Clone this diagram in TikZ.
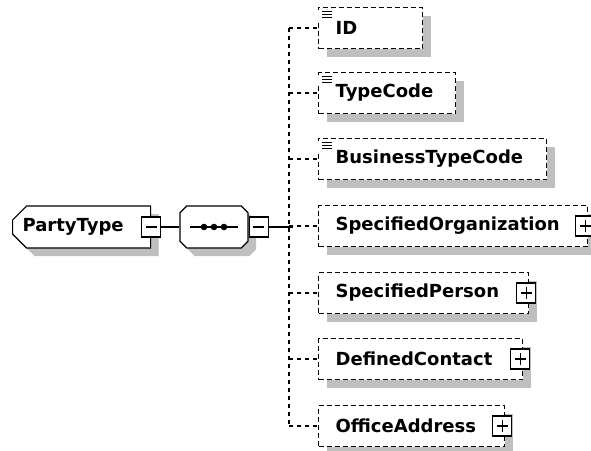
\documentclass[tikz,border=0pt]{standalone}
\usepackage{fontspec}
\setsansfont{DejaVu Sans}
\usepackage{tikz}
\usetikzlibrary{positioning, shapes.misc, shadows, calc}
\tikzset{
    boxshadow/.style={drop shadow={shadow xshift=8pt, shadow yshift=-8pt, opacity=1, fill=gray!50}},
    typebox/.style={chamfered rectangle, chamfered rectangle corners={north west, south west},
        chamfered rectangle sep=7pt, draw=black, fill=white, line width=1.2pt,
        minimum width=138pt, minimum height=42pt, inner xsep=3pt, text width=118pt, align=left, boxshadow},
    seqbox/.style={chamfered rectangle, chamfered rectangle sep=10pt, draw=black, fill=white,
        line width=1.2pt, minimum width=68pt, minimum height=42pt, boxshadow},
    elem/.style={draw=black, fill=white, line width=1.2pt, dash pattern=on 5pt off 3pt,
        anchor=west, minimum height=41pt, inner xsep=17pt, text width=#1, align=left, boxshadow},
    signbox/.style={draw=black, fill=white, line width=1.2pt, minimum width=19pt, minimum height=20pt, inner sep=0pt},
    minusbox/.style={signbox, path picture={
        \draw[line width=1.2pt] ([xshift=4pt]path picture bounding box.west) -- ([xshift=-4pt]path picture bounding box.east);}},
    plusbox/.style={signbox, path picture={
        \draw[line width=1.2pt] ([xshift=4pt]path picture bounding box.west) -- ([xshift=-4pt]path picture bounding box.east);
        \draw[line width=1.2pt] ([yshift=-4pt]path picture bounding box.north) -- ([yshift=4pt]path picture bounding box.south);}},
    link/.style={draw=black, line width=1.2pt},
    branch/.style={draw=black, line width=1.2pt, dash pattern=on 4pt off 4pt}
}
% little "simple content" mark on the upper left corner of a box
\newcommand{\contentmark}[1]{%
  \fill[white] ([shift={(-2,3)}]#1.north west) rectangle ([shift={(16,13)}]#1.north west);
  \draw[line width=1.1pt] ([shift={(4,5)}]#1.north west) -- ([shift={(14,5)}]#1.north west);
  \draw[line width=1.1pt] ([shift={(4,8)}]#1.north west) -- ([shift={(14,8)}]#1.north west);
  \draw[line width=1.1pt] ([shift={(4,11)}]#1.north west) -- ([shift={(14,11)}]#1.north west);
}

\begin{document}
\begin{tikzpicture}[x=1pt, y=-1pt, every node/.style={font=\sffamily\bfseries\fontsize{18}{20}\selectfont}]
  \useasboundingbox (0,0) rectangle (591,450);

  % the type and its sequence
  \node[typebox, anchor=west] (ptype) at (12,227) {PartyType};
  \node[minusbox] (ptypem) at (ptype.east) {};
  \node[seqbox] (seq) at (214,227) {};
  \node[minusbox, right=0pt of seq] (seqm) {};
  \draw[line width=1.2pt] ([xshift=-24pt]seq.center) -- ([xshift=24pt]seq.center);
  \fill ([xshift=-10pt]seq.center) circle (3.3pt);
  \fill (seq.center) circle (3.3pt);
  \fill ([xshift=10pt]seq.center) circle (3.3pt);
  \draw[link] (ptypem.east) -- (seq.west);
  \coordinate (spine) at (289,227);
  \draw[link] (seqm.east) -- ([xshift=4pt]spine);

  % children
  \node[elem=70pt]  (id)         at (318,28)  {ID};
  \node[elem=103pt] (typecode)   at (318,93)  {TypeCode};
  \node[elem=194pt] (btc)        at (318,159) {BusinessTypeCode};
  \node[elem=235pt] (specorg)    at (318,226) {SpecifiedOrganization};
  \node[elem=176pt] (specperson) at (318,293) {SpecifiedPerson};
  \node[elem=170pt] (defcontact) at (318,359) {DefinedContact};
  \node[elem=152pt] (offaddr)    at (318,426) {OfficeAddress};

  \contentmark{id}
  \contentmark{typecode}
  \contentmark{btc}

  \node[plusbox] (specorgp)    at ([xshift=-3pt]specorg.east) {};
  \node[plusbox] (specpersonp) at ([xshift=-3pt]specperson.east) {};
  \node[plusbox] (defcontactp) at ([xshift=-3pt]defcontact.east) {};
  \node[plusbox] (offaddrp)    at ([xshift=-3pt]offaddr.east) {};

  % dashed tree lines
  \draw[branch] (spine |- id.west) -- (spine |- offaddr.west);
  \draw[branch] (spine |- id.west) -- (id.west);
  \draw[branch] (spine |- typecode.west) -- (typecode.west);
  \draw[branch] (spine |- btc.west) -- (btc.west);
  \draw[branch] (spine |- specorg.west) -- (specorg.west);
  \draw[branch] (spine |- specperson.west) -- (specperson.west);
  \draw[branch] (spine |- defcontact.west) -- (defcontact.west);
  \draw[branch] (spine |- offaddr.west) -- (offaddr.west);
\end{tikzpicture}
\end{document}
